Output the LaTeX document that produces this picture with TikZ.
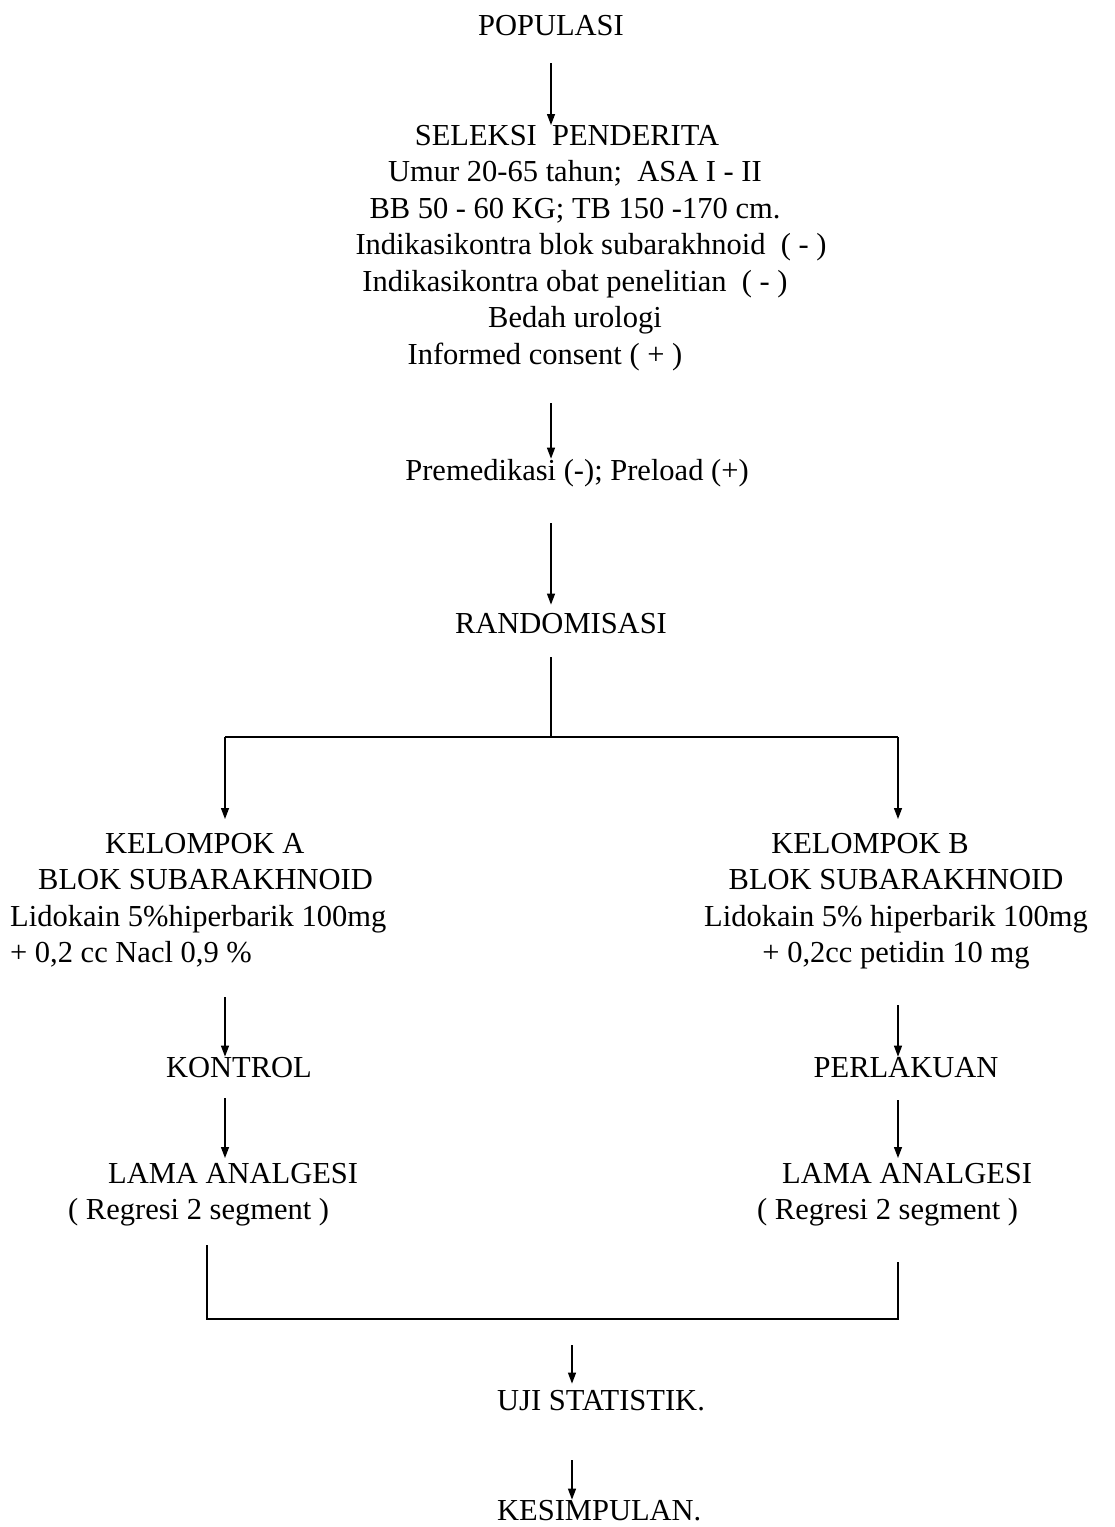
\documentclass[tikz,border=0pt]{standalone}
\usepackage{fontspec}
\setmainfont{Liberation Serif}
\newfontfamily\reffont{Liberation Serif}
\usetikzlibrary{arrows.meta}
\begin{document}
\begin{tikzpicture}[x=1pt,y=-1pt,
  every node/.style={inner sep=0pt,font=\reffont\fontsize{30.5}{36.5}\selectfont},
  conn/.style={line width=1.3pt},
  arr/.style={conn,-{Triangle[length=11pt,width=8pt]}}]
\useasboundingbox (0,0) rectangle (1115,1527);
% texts
\node[anchor=base] (pop) at (551,35) {POPULASI};
\node[anchor=north,align=center] (sel) at (575,125) {SELEKSI\ \ PENDERITA\hspace*{16pt}\\
Umur 20-65 tahun;\ \ ASA I - II\\
BB 50 - 60 KG; TB 150 -170 cm.\\
\hspace*{32pt}Indikasikontra blok subarakhnoid\ \ ( - )\\
Indikasikontra obat penelitian\ \ ( - )\\
Bedah urologi\hspace*{68pt}\\
Informed consent ( + )\hspace*{60pt}};
\node[anchor=base] (pre) at (577,480) {Premedikasi (-); Preload (+)};
\node[anchor=base] (rnd) at (561,633) {RANDOMISASI};
\node[anchor=north west,align=left] (kA) at (10,833) {\hspace*{95pt}KELOMPOK A\\
\hspace*{28pt}BLOK SUBARAKHNOID\\
Lidokain 5\%hiperbarik 100mg\\
+ 0,2 cc Nacl 0,9 \%};
\node[anchor=north,align=center] (kB) at (896,833) {KELOMPOK B\hspace*{52pt}\\
BLOK SUBARAKHNOID\\
Lidokain 5\% hiperbarik 100mg\\
+ 0,2cc petidin 10 mg};
\node[anchor=base] (kon) at (239,1077) {KONTROL};
\node[anchor=base] (per) at (906,1077) {PERLAKUAN};
\node[anchor=north west,align=left] (laA) at (68,1163) {\hspace*{40pt}LAMA ANALGESI\\
( Regresi 2 segment )};
\node[anchor=north west,align=left] (laB) at (757,1163) {\hspace*{25pt}LAMA ANALGESI\\
( Regresi 2 segment )};
\node[anchor=base west] (uji) at (497,1410) {UJI STATISTIK.};
\node[anchor=base west] (kes) at (497,1520) {KESIMPULAN.};
% coordinates
\coordinate (c1) at (551,63);
\coordinate (c2) at (551,403);
\coordinate (c3) at (551,523);
\coordinate (c4) at (551,657);
\coordinate (hub) at (551,737);
\coordinate (la) at (225,737);
\coordinate (ra) at (898,737);
\coordinate (c5) at (225,997);
\coordinate (c6) at (225,1098);
\coordinate (c7) at (898,1005);
\coordinate (c8) at (898,1100);
\coordinate (lb) at (207,1245);
\coordinate (lc) at (207,1319);
\coordinate (rc) at (898,1319);
\coordinate (rb) at (898,1262);
\coordinate (c9) at (572,1345);
\coordinate (c10) at (572,1460);
% connectors
\draw[arr] (c1) -- (c1 |- sel.north);
\draw[arr] (c2) -- (c2 |- pre.north);
\draw[arr,shorten >=8pt] (c3) -- (c3 |- rnd.north);
\draw[conn] (c4) -- (hub);
\draw[conn] (la) -- (ra);
\draw[arr,shorten >=14pt] (la) -- (la |- kA.north);
\draw[arr,shorten >=14pt] (ra) -- (ra |- kB.north);
\draw[arr] (c5) -- (c5 |- kon.north);
\draw[arr,shorten >=5pt] (c6) -- (c6 |- laA.north);
\draw[arr] (c7) -- (c7 |- per.north);
\draw[arr,shorten >=5pt] (c8) -- (c8 |- laB.north);
\draw[conn] (lb) -- (lc) -- (rc) -- (rb);
\draw[arr,shorten >=6pt] (c9) -- (c9 |- uji.north);
\draw[arr] (c10) -- (c10 |- kes.north);
\end{tikzpicture}
\end{document}
